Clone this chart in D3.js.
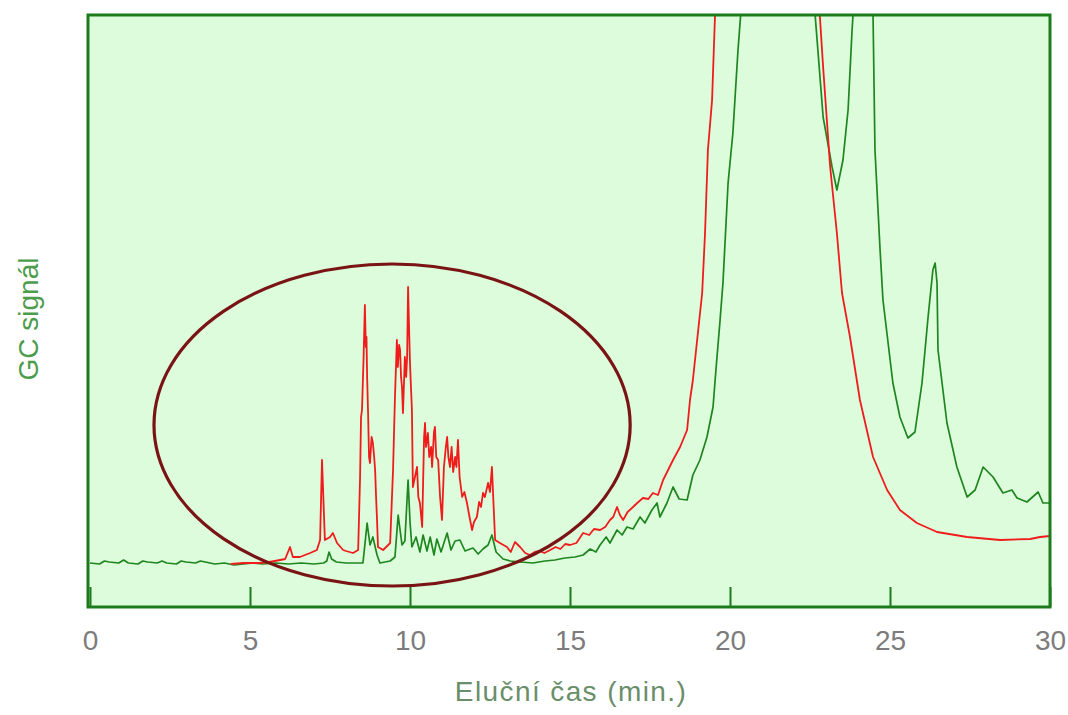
<!DOCTYPE html>
<html>
<head>
<meta charset="utf-8">
<script src="https://cdn.jsdelivr.net/npm/d3@7"></script>
<style>
  body { margin: 0; background: #fff; }
  svg { display: block; }
</style>
</head>
<body>
<svg id="chart" width="1068" height="715"></svg>
<script>
// elution time (min) vs GC signal (arbitrary units)
var xTicks = [0, 5, 10, 15, 20, 25, 30];
var xTitle = "Eluční čas (min.)";
var yTitle = "GC signál";

// green trace
var greenTrace = [
  [0, 44], [0.3, 43], [0.45, 46], [0.6, 45], [0.9, 44], [1.05, 47], [1.2, 44], [1.5, 43],
  [1.65, 46], [1.8, 45], [2.1, 44], [2.25, 46], [2.4, 44], [2.7, 43], [2.85, 46], [3.0, 45],
  [3.3, 44], [3.45, 46], [3.6, 45], [3.9, 43], [4.2, 44], [4.5, 42], [4.8, 43], [5.1, 44],
  [5.4, 43], [5.8, 44], [6.2, 43], [6.6, 44], [7.0, 43], [7.3, 44],
  [7.4, 46], [7.47, 55], [7.55, 48], [7.7, 45], [8.0, 44], [8.3, 44], [8.53, 44],
  [8.66, 84], [8.75, 62], [8.84, 70], [8.97, 52], [9.06, 44], [9.38, 46], [9.53, 50],
  [9.63, 92], [9.75, 62], [9.84, 66], [9.94, 127], [10.0, 85], [10.06, 60], [10.19, 70],
  [10.31, 55], [10.41, 72], [10.53, 56], [10.63, 70], [10.75, 52], [10.84, 68], [10.97, 55],
  [11.16, 74], [11.28, 57], [11.41, 66], [11.56, 67], [11.72, 56], [11.88, 58], [11.97, 59],
  [12.13, 53], [12.28, 58], [12.44, 62], [12.56, 72], [12.69, 55], [12.91, 48], [13.13, 46],
  [13.44, 45], [13.84, 44], [14.22, 46], [14.53, 47], [14.84, 49], [15.16, 50], [15.41, 52],
  [15.63, 58], [15.81, 55], [15.94, 62], [16.13, 70], [16.25, 64], [16.47, 77], [16.63, 72],
  [16.78, 80], [16.97, 78], [17.19, 90], [17.34, 84], [17.56, 97], [17.72, 104], [17.81, 90],
  [18.03, 104], [18.22, 120], [18.41, 108], [18.66, 107], [18.84, 132], [19.06, 147],
  [19.28, 170], [19.47, 200], [19.56, 237], [19.69, 287], [19.78, 324], [19.94, 424],
  [20.09, 474], [20.25, 557], [20.34, 595], [20.6, 700], [21.5, 900], [22.3, 750],
  [22.66, 592], [22.91, 490], [23.19, 440], [23.34, 417], [23.53, 447], [23.69, 497],
  [23.81, 574], [23.84, 590], [23.95, 700], [24.2, 800], [24.4, 700], [24.47, 592],
  [24.53, 457], [24.69, 357], [24.78, 307], [25.09, 224], [25.31, 190], [25.56, 169],
  [25.78, 175], [26.0, 224], [26.19, 290], [26.34, 337], [26.41, 344], [26.47, 324],
  [26.5, 257], [26.78, 184], [27.09, 140], [27.41, 110], [27.66, 117], [27.91, 140],
  [28.22, 130], [28.53, 114], [28.81, 117], [28.97, 109], [29.28, 105], [29.63, 115],
  [29.78, 104], [30.0, 104]
];

// red trace
var redTrace = [
  [4.4, 43], [4.8, 44], [5.3, 44], [5.6, 45], [5.94, 47], [6.1, 48], [6.25, 60], [6.34, 50],
  [6.56, 50], [6.88, 54], [7.09, 57], [7.19, 67], [7.25, 147], [7.34, 67], [7.5, 70],
  [7.59, 74], [7.72, 64], [7.91, 57], [8.0, 56], [8.22, 54], [8.38, 57],
  [8.44, 130], [8.47, 190], [8.5, 197], [8.55, 250], [8.59, 302], [8.62, 260], [8.64, 270],
  [8.66, 230], [8.69, 194], [8.72, 150], [8.75, 144], [8.8, 170], [8.84, 164], [8.88, 150],
  [8.91, 137], [8.94, 110], [8.97, 87], [9.0, 60], [9.16, 57], [9.38, 64],
  [9.47, 137], [9.53, 210], [9.59, 267], [9.62, 240], [9.66, 262], [9.69, 257], [9.72, 230],
  [9.75, 220], [9.78, 194], [9.84, 250], [9.88, 230], [9.91, 250], [9.94, 320], [9.97, 280],
  [10.0, 244], [10.03, 220], [10.06, 197], [10.09, 120],
  [10.22, 140], [10.26, 110], [10.31, 104], [10.38, 80], [10.44, 170], [10.47, 184],
  [10.5, 160], [10.56, 174], [10.6, 150], [10.66, 160], [10.69, 140], [10.75, 175],
  [10.78, 180], [10.82, 150], [10.88, 147], [10.94, 110], [11.0, 87], [11.06, 140],
  [11.12, 160], [11.16, 170], [11.2, 150], [11.25, 140], [11.3, 160], [11.35, 135],
  [11.41, 150], [11.45, 140], [11.5, 167], [11.55, 130], [11.63, 110], [11.7, 115],
  [11.78, 104], [11.86, 90], [11.94, 77], [12.0, 85], [12.09, 90], [12.16, 105], [12.22, 100],
  [12.28, 114], [12.34, 110], [12.44, 124], [12.5, 115], [12.56, 140], [12.6, 110], [12.66, 67],
  [12.81, 64], [13.03, 60], [13.15, 55], [13.28, 65], [13.44, 60], [13.6, 54], [13.75, 52],
  [13.9, 55], [14.05, 56], [14.2, 54], [14.38, 57], [14.55, 60], [14.7, 58], [14.85, 63],
  [15.0, 62], [15.2, 64], [15.41, 74], [15.6, 72], [15.75, 78], [15.94, 77], [16.1, 80],
  [16.25, 87], [16.35, 90], [16.47, 100], [16.56, 92], [16.66, 87], [16.8, 95], [16.97, 100],
  [17.1, 104], [17.28, 109], [17.45, 108], [17.59, 114], [17.75, 112], [17.91, 127],
  [18.22, 147], [18.44, 160], [18.66, 177], [18.75, 207], [18.84, 227], [19.13, 314],
  [19.22, 374], [19.31, 457], [19.44, 507], [19.53, 590], [19.8, 750], [20.5, 950],
  [21.5, 1000], [22.2, 850], [22.5, 700], [22.81, 590], [22.91, 540], [23.13, 440],
  [23.34, 374], [23.5, 314], [23.75, 270], [24.06, 207], [24.47, 150], [24.91, 117],
  [25.31, 97], [25.84, 84], [26.47, 75], [27.41, 70], [28.44, 67], [29.38, 68], [29.69, 70],
  [30.0, 71]
];

// highlighted region (ellipse): centre time, centre signal, half-width (min), half-height
var ellipseCentre = [9.44, 182];
var ellipseRadii = [7.44, 161];

var svg = d3.select('#chart');

var x = d3.scaleLinear().domain([0, 30]).range([90, 1050]);
var y = d3.scaleLinear().domain([0, 592]).range([607, 15]);

var frameColor = '#1c7c1c';

// plot background
svg.append('rect')
  .attr('x', 88)
  .attr('y', y(592))
  .attr('width', x(30) - 88)
  .attr('height', y(0) - y(592))
  .style('fill', '#dcfcdc');

svg.append('clipPath')
  .attr('id', 'plotClip')
  .append('rect')
  .attr('x', 88)
  .attr('y', y(592))
  .attr('width', x(30) - 88)
  .attr('height', y(0) - y(592));

var line = d3.line()
  .x(function(d){ return x(d[0]); })
  .y(function(d){ return y(d[1]); });

var plot = svg.append('g').attr('clip-path', 'url(#plotClip)');

plot.append('path')
  .datum(greenTrace)
  .attr('d', line)
  .style('fill', 'none')
  .style('stroke', '#1f861f')
  .style('stroke-width', 1.7)
  .style('stroke-linejoin', 'round');

plot.append('path')
  .datum(redTrace)
  .attr('d', line)
  .style('fill', 'none')
  .style('stroke', '#f01c1c')
  .style('stroke-width', 1.8)
  .style('stroke-linejoin', 'round');

svg.append('ellipse')
  .attr('cx', x(ellipseCentre[0]))
  .attr('cy', y(ellipseCentre[1]))
  .attr('rx', x(ellipseRadii[0]) - x(0))
  .attr('ry', y(0) - y(ellipseRadii[1]))
  .style('fill', 'none')
  .style('stroke', '#7a1414')
  .style('stroke-width', 3.2);

// x axis: inward ticks, labels below the frame
var axis = svg.append('g')
  .attr('transform', 'translate(0,' + y(0) + ')')
  .call(d3.axisBottom(x).tickValues(xTicks).tickSize(-20).tickPadding(23).tickFormat(d3.format('d')));

axis.select('.domain').remove();
axis.selectAll('.tick line')
  .style('stroke', frameColor)
  .style('stroke-width', 2);
axis.selectAll('.tick text')
  .style('font-family', 'Liberation Sans, Arial, sans-serif')
  .style('font-size', '28px')
  .style('fill', '#7c7c7c');

// frame
svg.append('rect')
  .attr('x', 88)
  .attr('y', y(592))
  .attr('width', x(30) - 88)
  .attr('height', y(0) - y(592))
  .style('fill', 'none')
  .style('stroke', frameColor)
  .style('stroke-width', 3);

svg.append('text')
  .attr('x', 571)
  .attr('y', 701)
  .attr('text-anchor', 'middle')
  .style('font-family', 'Liberation Sans, Arial, sans-serif')
  .style('font-size', '28px')
  .style('letter-spacing', '1.4px')
  .style('fill', '#6a8e6a')
  .text(xTitle);

svg.append('text')
  .attr('transform', 'translate(38,319) rotate(-90)')
  .attr('text-anchor', 'middle')
  .style('font-family', 'Liberation Sans, Arial, sans-serif')
  .style('font-size', '28px')
  .style('fill', '#4c9c4c')
  .text(yTitle);
</script>
</body>
</html>
